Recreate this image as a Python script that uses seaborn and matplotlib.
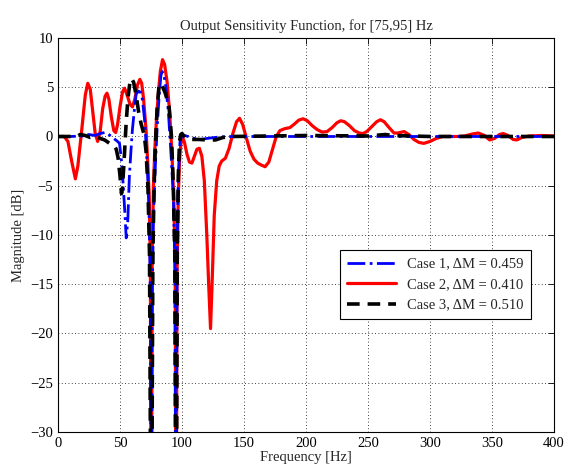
import numpy as np
import pandas as pd
import matplotlib
matplotlib.use("Agg")
import matplotlib.pyplot as plt
import seaborn as sns

# ---- data ----
title = "Output Sensitivity Function, for [75,95] Hz"
labels = ["Case 1, \u0394M = 0.459", "Case 2, \u0394M = 0.410", "Case 3, \u0394M = 0.510"]

f1 = [0, 10, 20, 25, 30, 34, 37.6, 40, 43, 46, 48, 49.6, 51, 52.3, 53.8, 55, 56.3, 57.5, 58.8, 60, 61.5,
      63, 65, 66.5, 68, 70, 72, 73.5, 74.5, 75.2, 76, 77, 78.5, 80, 81.5, 83, 84, 85.5, 87, 89, 91, 93,
      94.3, 95.2, 96, 97, 98.4, 100, 102, 105, 110, 115, 120, 130, 140, 200, 300, 400]
m1 = [0, 0, 0.05, 0.2, 0.1, 0.3, 0.4, 0.3, 0, -0.3, -0.5, -0.7, -2.2, -4.4, -7.5, -10.3, -8.5, -4.2, -1.5, 0.7, 2.6,
      4.3, 4.6, 4.5, 3.8, 1.5, -3, -8, -16, -50, -16, -8, -3, 1, 4, 6.2, 6.6, 6.2, 5, 2.5, -1.5, -6,
      -13, -50, -12, -4, -0.5, 0.1, 0.1, 0, -0.2, -0.3, -0.2, -0.05, 0, 0, 0, 0]

f2 = [0, 5, 8, 11, 14, 16, 19, 22, 24, 26, 28, 30, 32, 34, 36, 38, 39.5, 41, 43, 45, 46.5, 48, 50, 52,
      53.6, 55.5, 58, 60, 62, 64, 66, 67.5, 69, 71, 72.5, 73.6, 74.5, 75.2, 76, 77, 78, 79.5, 81, 82.5,
      84.3, 86, 88, 90, 92, 93.5, 94.5, 95.2, 96, 97, 98, 99, 100.5, 102, 104, 106, 108, 110, 112, 114,
      116, 118, 120, 121.5, 123, 124.5, 126, 128, 130, 132, 135, 138, 141, 144, 146.4, 149, 152, 155,
      158, 161, 164, 167, 170, 173, 176, 179, 183, 187, 191, 194, 197.6, 201, 205, 209, 213, 217, 221,
      225, 228, 231, 235, 239, 243, 246, 249, 253, 257, 260, 263, 267, 271, 274, 279, 283, 287, 291,
      295, 300, 305, 310, 316, 322, 328, 334, 339, 344, 348, 352, 356, 359, 363, 367, 370, 374, 380,
      390, 400]
m2 = [0, 0, -0.5, -2.5, -4.3, -3, 0.5, 4.2, 5.4, 4.8, 2.5, 0.3, -0.5, 0.5, 2.8, 4.1, 4.4, 3.8, 2, 0.6,
      0.4, 1.2, 3, 4.5, 4.9, 4.3, 3.3, 3.0, 3.8, 5.2, 5.8, 5.4, 3.8, 0.7, -3, -6.1, -13, -50, -12, -5,
      -1.5, 2, 4.5, 6.6, 7.8, 7.3, 5.5, 2.5, -2, -7, -14, -50, -14, -6, -2.5, -0.8, -0.1, -0.6, -1.8,
      -2.6, -2.7, -2.0, -1.3, -1.2, -2, -4.5, -10, -15, -19.5, -14, -8, -4.5, -3, -2.5, -2.2, -1.2, 0.3,
      1.5, 1.85, 1.2, -0.2, -1.5, -2.3, -2.7, -2.9, -3.07, -2.6, -1.3, 0, 0.6, 0.8, 0.9, 1.3, 1.65, 1.8,
      1.6, 1.1, 0.7, 0.45, 0.5, 0.9, 1.4, 1.6, 1.5, 1.1, 0.6, 0.35, 0.3, 0.5, 1.0, 1.5, 1.7, 1.5, 0.9,
      0.35, 0.35, 0.5, 0.2, -0.3, -0.6, -0.7, -0.5, -0.2, 0, 0, 0, 0.05, 0.25, 0.35, 0.1, -0.35, -0.2,
      0.2, 0.3, 0.1, -0.3, -0.35, -0.1, 0.05, 0.1, 0.05]

f3 = [0, 15, 18, 22, 26, 30, 34, 37.6, 41.6, 45, 47, 48.5, 50, 51.2, 52, 53.5, 55, 56.5, 58, 59.3, 61,
      63, 65, 67, 69.6, 71, 72.5, 73.8, 75.2, 76.5, 77.5, 78.5, 80, 81.6, 83, 84.5, 86.5, 89.6, 91.5,
      93, 94.2, 95.2, 96.2, 97, 98, 99, 100, 103, 108, 113.6, 120, 127, 133, 140, 200, 250, 264, 270,
      300, 400]
m3 = [0, 0, 0.2, 0.1, -0.1, 0, -0.2, -0.35, -0.7, -0.9, -1.3, -2.2, -4, -5.8, -5.2, -2, 1.5, 4, 5.5,
      5.9, 5.5, 4.2, 2.5, 1.3, 0.1, -1.5, -5, -12, -50, -12, -5, -1, 3, 5.3, 5.4, 5.0, 4.4, 3, 0, -5,
      -12, -50, -12, -4, -0.5, 0.2, 0.3, -0.2, -0.3, -0.3, -0.35, -0.35, -0.1, 0, 0.1, 0.05, 0.2, 0.1,
      0, 0]

xticks = [0, 50, 100, 150, 200, 250, 300, 350, 400]
yticks = [-30, -25, -20, -15, -10, -5, 0, 5, 10]

df1 = pd.DataFrame({"f": f1, "m": m1})
df2 = pd.DataFrame({"f": f2, "m": m2})
df3 = pd.DataFrame({"f": f3, "m": m3})

sns.set_style("white")
plt.rcParams["font.family"] = ["Liberation Serif", "DejaVu Serif"]

fig = plt.figure(figsize=(5.67, 4.69), dpi=100)
ax = fig.add_axes([0.1023, 0.0789, 0.8748, 0.8401])

sns.lineplot(data=df1, x="f", y="m", ax=ax, color=(0, 0, 1), lw=2.0, linestyle="-.",
             label=labels[0], sort=False, zorder=3)
sns.lineplot(data=df2, x="f", y="m", ax=ax, color=(1, 0, 0), lw=2.3, linestyle="-",
             label=labels[1], sort=False, zorder=2)
sns.lineplot(data=df3, x="f", y="m", ax=ax, color="black", lw=2.6, linestyle=(0, (3.5, 2.2)),
             label=labels[2], sort=False, zorder=4)

ax.set_xlim(0, 400)
ax.set_ylim(-30, 10)
ax.set_xticks(xticks)
ax.set_yticks(yticks)
ax.tick_params(direction="in", top=True, right=True, length=4, width=0.6, labelsize=10.5, colors="black")
ax.grid(True, linestyle=(0, (1, 3)), color="black", linewidth=0.6)
for s in ax.spines.values():
    s.set_visible(True)
    s.set_color("black")
    s.set_linewidth(0.8)

ax.set_title(title, fontsize=10.5, pad=6)
ax.set_xlabel("Frequency [Hz]", fontsize=10.5, labelpad=1)
ax.set_ylabel("Magnitude [dB]", fontsize=10.5, labelpad=4)

leg = ax.legend(loc="upper left", bbox_to_anchor=(0.554, 0.48), fontsize=10.5, frameon=True,
                fancybox=False, edgecolor="black", framealpha=1, handlelength=3.3,
                borderpad=0.5, labelspacing=0.5)
leg.get_frame().set_linewidth(0.8)

fig.savefig("out.png", dpi=100)
